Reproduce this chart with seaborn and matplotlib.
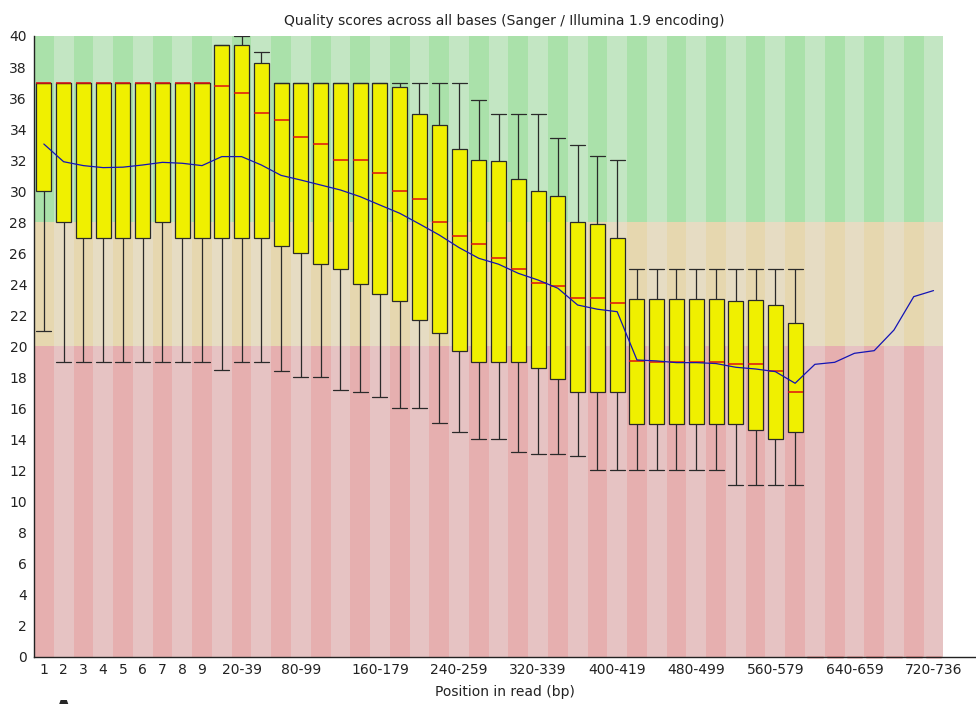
import numpy as np
import pandas as pd
import seaborn as sns
import matplotlib.pyplot as plt
from matplotlib.patches import Rectangle

# read positions (FastQC style grouping)
positions = [str(i) for i in range(1, 10)] + ['10-19'] + \
    [f'{s}-{s + 19}' for s in range(20, 720, 20)] + ['720-736']

shown_labels = ['1', '2', '3', '4', '5', '6', '7', '8', '9', '20-39', '80-99',
                '160-179', '240-259', '320-339', '400-419', '480-499',
                '560-579', '640-659', '720-736']

# per-position quality statistics (boxes exist only up to 580-599)
p10 = [21, 19, 19, 19, 19, 19, 19, 19, 19, 18.5, 19, 19, 18.45, 18.05, 18.05,
       17.2, 17.05, 16.75, 16.06, 16.06, 15.05, 14.5, 14.06, 14.06, 13.2, 13.05,
       13.05, 12.97, 12.05, 12.05, 12.05, 12.05, 12.05, 12.05, 12.05, 11.1,
       11.05, 11.05, 11.05]
q1 = [30, 28, 27, 27, 27, 27, 28, 27, 27, 27, 27, 27, 26.5, 26.05, 25.3, 25.0,
      24.0, 23.4, 22.95, 21.7, 20.85, 19.7, 19.0, 19.0, 19.0, 18.6, 17.9, 17.05,
      17.05, 17.05, 15.0, 15.0, 15.0, 15.0, 15.0, 15.0, 14.6, 14.06, 14.5]
median = [37, 37, 37, 37, 37, 37, 37, 37, 37, 36.78, 36.35, 35.04, 34.6, 33.5,
          33.05, 32.0, 32.0, 31.2, 30.0, 29.5, 28.0, 27.1, 26.6, 25.7, 25.0, 24.1,
          23.9, 23.1, 23.1, 22.8, 19.07, 19.0, 18.98, 19.0, 19.0, 18.9, 18.9,
          18.45, 17.07]
q3 = [37, 37, 37, 37, 37, 37, 37, 37, 37, 39.42, 39.42, 38.26, 37, 37, 37, 37,
      37, 37, 36.7, 35.0, 34.25, 32.75, 32.0, 31.95, 30.8, 30.0, 29.7, 28.0, 27.9,
      27.0, 23.05, 23.05, 23.05, 23.05, 23.05, 22.95, 23.0, 22.7, 21.5]
p90 = [37, 37, 37, 37, 37, 37, 37, 37, 37, 39.42, 40, 38.95, 37, 37, 37, 37, 37,
       37, 37, 37, 37, 37, 35.9, 35.0, 35.0, 35.0, 33.4, 33.0, 32.3, 32.0, 25, 25,
       25, 25, 25, 25, 25, 25, 25]
mean = [33.04, 31.9, 31.65, 31.52, 31.55, 31.69, 31.86, 31.8, 31.65, 32.23,
        32.23, 31.69, 31.02, 30.72, 30.4, 30.08, 29.65, 29.11, 28.58, 27.89,
        27.18, 26.37, 25.68, 25.3, 24.71, 24.28, 23.75, 22.67, 22.4, 22.24,
        19.13, 19.07, 18.96, 18.96, 18.9, 18.66, 18.55, 18.38, 17.63, 18.85,
        18.98, 19.56, 19.73, 21.06, 23.21, 23.6]

# quality bands: (low, high, even column colour, odd column colour)
bands = [(0, 20, '#e6afaf', '#e6c3c3'),
         (20, 28, '#e6d7af', '#e6dcc3'),
         (28, 40, '#aae1aa', '#c3e6c3')]

sns.set_style('white')
plt.rcParams['font.family'] = ['DejaVu Sans']

fig = plt.figure(figsize=(9.76, 7.04), dpi=100)
ax = fig.add_axes([0.0348, 0.0668, 0.9642, 0.8821])

for i in range(len(positions)):
    for lo, hi, dark, light in bands:
        ax.add_patch(Rectangle((i - 0.5, lo), 1, hi - lo,
                               facecolor=dark if i % 2 == 0 else light,
                               edgecolor='none', zorder=0))

# five points per position -> quartiles with whiskers at min/max
n_box = len(median)
df = pd.DataFrame({
    'pos': np.repeat(positions[:n_box], 5),
    'quality': np.column_stack([p10, q1, median, q3, p90]).ravel(),
})

sns.boxplot(data=df, x='pos', y='quality', order=positions, whis=(0, 100),
            width=0.76, color='#f0f000', saturation=1, linecolor='#2a2a2a',
            linewidth=0.9, showfliers=False,
            medianprops={'color': '#e01010', 'linewidth': 1.1},
            capwidths=0.76, ax=ax)

# positions without data get a zero median mark on the axis
for i in range(n_box, len(positions)):
    ax.plot([i - 0.4, i + 0.4], [0, 0], color='#d42020', lw=1.0,
            clip_on=False, zorder=1)

sns.lineplot(x=np.arange(len(mean)), y=mean, color='#1414b4', linewidth=0.9,
             ax=ax, zorder=5)

ax.set_xticks([positions.index(l) for l in shown_labels], shown_labels)
ax.set_yticks(range(0, 41, 2))
ax.set_xlim(-0.5, 47.1)
ax.set_ylim(0, 40)
ax.tick_params(length=0, labelsize=10, colors='#222222')
ax.tick_params(axis='x', pad=4)
ax.tick_params(axis='y', pad=5)
for side in ['top', 'right']:
    ax.spines[side].set_visible(False)
for side in ['left', 'bottom']:
    ax.spines[side].set_color('#222222')
    ax.spines[side].set_linewidth(1.0)

ax.set_xlabel('Position in read (bp)', fontsize=10, labelpad=6, color='#222222')
ax.set_ylabel('')
ax.set_title('Quality scores across all bases (Sanger / Illumina 1.9 encoding)',
             fontsize=10, pad=8, color='#222222')

# panel letter, cut off by the bottom edge as in the source figure
fig.text(0.054, -0.024, 'A', fontsize=20, fontweight='bold')

fig.savefig('out.png', dpi=100)
